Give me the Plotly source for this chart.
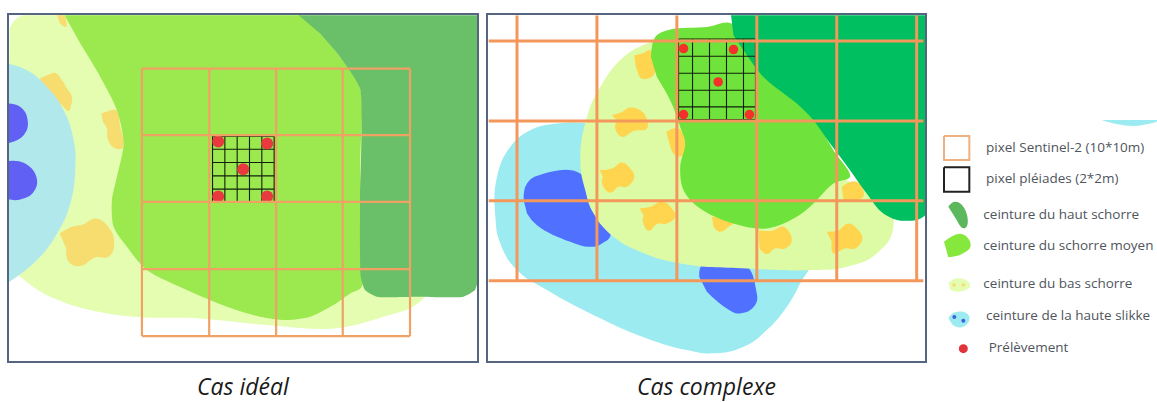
import plotly.graph_objects as go

W, H = 1157, 402

# ---- Panel 1 : Cas idéal (coordinates read at 3x of the picture)
p1_bas = [(28,85),(60,48),(1000,48),(1400,500),(1270,895),(1150,950),(1000,985),(800,975),(600,955),(400,950),(250,925),(130,880),(60,830),(20,790)]
p1_moyen = [(190,40),(890,40),(960,100),(1020,170),(1080,265),(1080,500),(1085,860),(1050,880),(1000,915),(930,950),(860,960),(780,950),(680,920),(560,870),(440,810),(380,740),(340,680),(335,600),(350,530),(370,430),(350,330),(300,230),(240,130)]
p1_haut = [(890,40),(1440,40),(1440,500),(1434,840),(1425,870),(1390,890),(1250,890),(1130,890),(1095,870),(1082,830),(1080,600),(1080,265),(1020,170),(960,100)]
p1_slikke = [(20,190),(80,210),(140,260),(190,330),(220,420),(225,500),(210,610),(170,700),(110,780),(20,850)]
p1_bleu = [
    [(20,310),(60,320),(82,360),(70,405),(20,430)],
    [(20,483),(70,488),(108,530),(100,575),(60,598),(20,597)],
]
p1_jaune = [
    [(118,235),(140,225),(165,218),(185,240),(200,265),(215,290),(212,315),(205,332),(185,315),(160,290),(135,260)],
    [(303,340),(325,332),(348,330),(360,380),(370,430),(365,445),(340,442),(322,415),(320,385),(308,365)],
    [(178,700),(215,680),(250,672),(285,655),(320,675),(342,725),(325,770),(285,772),(240,798),(205,785),(198,745)],
    [(170,44),(190,44),(197,80),(178,68)],
]
p1_s2_x = [425,627,828,1028,1230]
p1_s2_y = [205,405,605,807,1008]
p1_pl_x = [637,674,711,748,785,822]
p1_pl_y = [408,447,487,527,567,606]
p1_pts_x = [654,801,729,654,801]
p1_pts_y = [424,430,507,589,589]

# ---- Panel 2 : Cas complexe
p2_slikke = [(320,368),(230,370),(150,390),(90,440),(50,530),(45,650),(60,730),(110,810),(200,870),(350,950),(500,1015),(620,1050),(700,1060),(790,1040),(860,990),(920,920),(960,850),(990,780),(900,600),(500,370)]
p2_bleu = [
    [(130,600),(140,550),(185,522),(300,520),(340,600),(392,700),(365,730),(330,740),(270,725),(170,675),(140,640)],
    [(657,830),(670,790),(790,790),(828,870),(825,915),(780,940),(740,925),(680,875)],
]
p2_bas = [(500,130),(430,170),(360,260),(320,350),(300,480),(315,570),(340,640),(400,710),(480,755),(600,790),(800,805),(1000,810),(1100,800),(1190,760),(1240,680),(1200,560),(1100,540),(800,300),(600,100)]
p2_jaune = [
    [(462,165),(490,158),(510,150),(522,190),(520,225),(485,235),(470,210),(465,190)],
    [(395,345),(425,335),(450,322),(480,330),(497,350),(500,385),(460,392),(425,410),(405,385),(410,360)],
    [(558,395),(595,385),(615,430),(610,465),(585,465),(570,440)],
    [(358,510),(395,505),(425,487),(450,505),(462,530),(440,560),(415,560),(390,578),(365,550),(368,530)],
    [(478,625),(510,620),(545,605),(575,625),(585,650),(560,670),(530,672),(505,692),(488,665),(490,645)],
    [(695,650),(770,660),(745,680),(720,695),(700,680)],
    [(835,690),(875,692),(910,680),(935,720),(915,745),(885,745),(860,762),(838,745)],
    [(1040,695),(1075,690),(1105,670),(1135,690),(1147,715),(1125,745),(1095,745),(1060,760),(1055,725)],
    [(1085,560),(1130,545),(1150,590),(1090,600)],
]
p2_moyen = [(512,170),(525,110),(570,88),(680,80),(755,70),(830,200),(990,340),(1060,450),(1110,530),(1060,550),(1000,610),(950,650),(860,685),(760,670),(660,625),(610,570),(600,500),(615,430),(600,380),(570,300),(530,230)]
p2_haut = [(752,40),(1340,40),(1340,640),(1270,662),(1210,640),(1160,580),(1110,510),(1050,430),(1000,360),(950,310),(850,230),(790,150),(760,105)]
p2_s2_x = [110,350,590,830,1070,1310]
p2_s2_y = [122,362,602,842]
p2_pl_x = [595,637,688,739,790,826]
p2_pl_y = [116,168,219,270,320,358]
p2_pts_x = [610,760,714,610,808]
p2_pts_y = [145,148,245,343,343]

# ---- Legend
leg_labels = ["pixel Sentinel-2 (10*10m)","pixel pléiades (2*2m)","ceinture du haut schorre","ceinture du schorre moyen","ceinture du bas schorre","ceinture de la haute slikke","Prélèvement"]
leg_x = [168,168,160,160,160,168,176]
leg_y = [115,210,317,410,525,620,716]
leg_rect_s2 = [(42,78),(118,78),(118,150),(42,150),(42,78)]
leg_rect_pl = [(42,172),(118,172),(118,245),(42,245),(42,172)]
leg_haut = [(55,290),(75,275),(100,290),(112,345),(100,355),(80,330)]
leg_moyen = [(42,395),(95,372),(122,405),(100,430),(55,442)]
leg_bas = [(55,520),(80,505),(115,515),(120,530),(85,545),(62,540)]
leg_bas_pts_x = [72,100]
leg_bas_pts_y = [525,525]
leg_slikke = [(55,625),(75,607),(110,610),(118,630),(95,652),(68,645)]
leg_slikke_pts_x = [73,100]
leg_slikke_pts_y = [621,632]
leg_red_x = [100]
leg_red_y = [716]
leg_arc = [(515,30),(560,42),(610,48),(650,43),(681,34),(681,30)]

captions = ["Cas idéal","Cas complexe"]

COL_FRAME = "#55657f"
COL_S2 = "#f0a265"
COL_S2B = "#f4975a"

fig = go.Figure()

def blob(pts, color, ax, smoothing=1.3):
    xs = [p[0] for p in pts]; ys = [p[1] for p in pts]
    fig.add_trace(go.Scatter(x=xs, y=ys, mode="lines", fill="toself", fillcolor=color,
                             line=dict(color=color, width=0, shape="spline", smoothing=smoothing),
                             xaxis="x"+ax, yaxis="y"+ax, hoverinfo="skip"))

def grid(vx, vy, x0, x1, y0, y1, color, width, ax):
    xs, ys = [], []
    for x in vx:
        xs += [x, x, None]; ys += [y0, y1, None]
    for y in vy:
        xs += [x0, x1, None]; ys += [y, y, None]
    fig.add_trace(go.Scatter(x=xs, y=ys, mode="lines", line=dict(color=color, width=width),
                             xaxis="x"+ax, yaxis="y"+ax, hoverinfo="skip"))

def dots(xs, ys, color, size, ax):
    fig.add_trace(go.Scatter(x=xs, y=ys, mode="markers", marker=dict(color=color, size=size, line=dict(width=0)),
                             xaxis="x"+ax, yaxis="y"+ax, hoverinfo="skip"))

# panel 1
blob(p1_bas, "#e4fdb1", "", 1.0)
for b in p1_jaune: blob(b, "#f7dc6f", "")
blob(p1_slikke, "#b0e8ec", "")
for b in p1_bleu: blob(b, "#6060f5", "")
blob(p1_moyen, "#9be84f", "", 0.8)
blob(p1_haut, "#6abf69", "", 0.5)
grid(p1_pl_x, p1_pl_y, p1_pl_x[0], p1_pl_x[-1], p1_pl_y[0], p1_pl_y[-1], "#10200c", 1.1, "")
dots(p1_pts_x, p1_pts_y, "#e8393f", 12, "")
grid(p1_s2_x, p1_s2_y, p1_s2_x[0], p1_s2_x[-1], p1_s2_y[0], p1_s2_y[-1], COL_S2, 2.2, "")

# panel 2
blob(p2_slikke, "#9bebf0", "2")
for b in p2_bleu: blob(b, "#5070ff", "2")
blob(p2_bas, "#ddfba5", "2")
for b in p2_jaune: blob(b, "#ffd54f", "2")
blob(p2_moyen, "#6fe23b", "2", 1.0)
blob(p2_haut, "#00bf60", "2", 1.0)
grid(p2_pl_x, p2_pl_y, p2_pl_x[0], p2_pl_x[-1], p2_pl_y[0], p2_pl_y[-1], "#10200c", 1.1, "2")
dots(p2_pts_x, p2_pts_y, "#f5302a", 9.5, "2")
grid(p2_s2_x, p2_s2_y, 25, 1330, 45, 842, COL_S2B, 3, "2")

# legend
blob(leg_arc, "#9bebf0", "3", 1.0)
for r, c, w in ((leg_rect_s2, "#f0b080", 2), (leg_rect_pl, "#222222", 2)):
    fig.add_trace(go.Scatter(x=[p[0] for p in r], y=[p[1] for p in r], mode="lines",
                             line=dict(color=c, width=w), xaxis="x3", yaxis="y3", hoverinfo="skip"))
blob(leg_haut, "#5cb85c", "3")
blob(leg_moyen, "#86e83c", "3")
blob(leg_bas, "#e4fdb1", "3")
dots(leg_bas_pts_x, leg_bas_pts_y, "#f7dc6f", 3.5, "3")
blob(leg_slikke, "#9bebf0", "3")
dots(leg_slikke_pts_x, leg_slikke_pts_y, "#4060e0", 4, "3")
dots(leg_red_x, leg_red_y, "#e0343a", 9, "3")
fig.add_trace(go.Scatter(x=leg_x, y=leg_y, mode="text", text=leg_labels, textposition="middle right",
                         textfont=dict(family="Open Sans", size=13.5, color="#50555c"),
                         xaxis="x3", yaxis="y3", hoverinfo="skip", cliponaxis=False))

def ax(x0, x1, rng, anchor, frame):
    return dict(domain=[x0/W, x1/W], range=rng, visible=frame, showgrid=False, zeroline=False,
                showticklabels=False, ticks="", showline=frame, mirror=frame, linecolor=COL_FRAME, linewidth=2.4,
                anchor=anchor, fixedrange=True)

def ay(y0, y1, rng, anchor, frame):
    return dict(domain=[1-y1/H, 1-y0/H], range=rng, visible=frame, showgrid=False, zeroline=False,
                showticklabels=False, ticks="", showline=frame, mirror=frame, linecolor=COL_FRAME, linewidth=2.4,
                anchor=anchor, fixedrange=True)

fig.update_layout(
    width=W, height=H, margin=dict(l=0, r=0, t=0, b=0), paper_bgcolor="white", plot_bgcolor="white",
    showlegend=False, hovermode=False,
    xaxis=ax(8.7, 477.3, [25, 1432], "y", True),
    yaxis=ay(15.3, 360.7, [1082, 45], "x", True),
    xaxis2=ax(487.7, 925, [22, 1335], "y2", True),
    yaxis2=ay(15.3, 360.7, [1082, 45], "x2", True),
    xaxis3=ax(930, 1157, [0, 681], "y3", False),
    yaxis3=ay(110, 370, [780, 0], "x3", False),
    annotations=[
        dict(text="<i>"+captions[0]+"</i>", x=243/W, y=1-385.5/H, xref="paper", yref="paper", showarrow=False,
             font=dict(family="Open Sans", size=23, color="#1a1a1a"), xanchor="center", yanchor="middle"),
        dict(text="<i>"+captions[1]+"</i>", x=706/W, y=1-385.5/H, xref="paper", yref="paper", showarrow=False,
             font=dict(family="Open Sans", size=23, color="#1a1a1a"), xanchor="center", yanchor="middle"),
    ],
)

fig.write_html("out.html", config=dict(displayModeBar=False),
               post_script="document.body.style.margin='0';document.documentElement.style.overflow='hidden';")
